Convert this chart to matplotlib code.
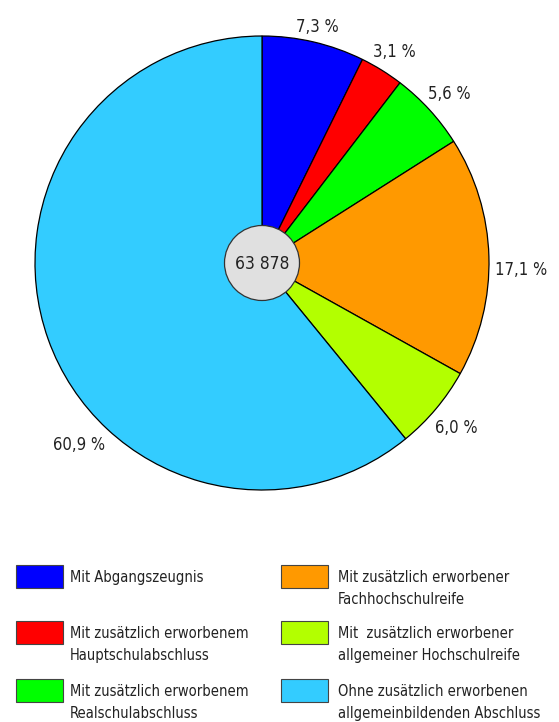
import matplotlib.pyplot as plt
from matplotlib.patches import Rectangle, Circle
from matplotlib import font_manager
import numpy as np

# the reference uses a condensed sans; take a regular-weight one if present
narrow = [f for f in font_manager.fontManager.ttflist
          if ("Narrow" in f.name or "Condensed" in f.name
              or str(f.stretch) in ("condensed", "semi-condensed", "575", "600", "700"))
          and f.style == "normal" and f.weight in (400, "normal", "regular", "book")]
fp = font_manager.FontProperties(fname=narrow[0].fname) if narrow else None

shares = [7.3, 3.1, 5.6, 17.1, 6.0, 60.9]
share_labels = ["7,3 %", "3,1 %", "5,6 %", "17,1 %", "6,0 %", "60,9 %"]
colors = ["#0000ff", "#ff0000", "#00ff00", "#ff9900", "#b3ff00", "#33ccff"]
categories = [
    "Mit Abgangszeugnis",
    "Mit zusätzlich erworbenem\nHauptschulabschluss",
    "Mit zusätzlich erworbenem\nRealschulabschluss",
    "Mit zusätzlich erworbener\nFachhochschulreife",
    "Mit  zusätzlich erworbener\nallgemeiner Hochschulreife",
    "Ohne zusätzlich erworbenen\nallgemeinbildenden Abschluss",
]
total = "63 878"

W, H = 559, 722
fig = plt.figure(figsize=(W / 100, H / 100), dpi=100)
ax = fig.add_axes([0, 0, 1, 1])

cx, cy, r = 262, 263, 227
# y axis is inverted, so counterclock=True draws clockwise on screen
wedges, _ = ax.pie(shares, colors=colors, startangle=-90, counterclock=True,
                   center=(cx, cy), radius=r, frame=True,
                   wedgeprops=dict(edgecolor="black", linewidth=0.9))
ax.set_xlim(0, W)
ax.set_ylim(H, 0)
ax.set_aspect("equal")
ax.axis("off")

txt = "#222222"

# percentage labels: keep a fixed gap between the rim and the text box
# (two labels sit off their slice's middle in the original)
label_angle = {3: 1.0, 5: 135.5}
renderer = fig.canvas.get_renderer()
for i, (w, lab) in enumerate(zip(wedges, share_labels)):
    ang = np.deg2rad(label_angle.get(i, (w.theta1 + w.theta2) / 2))
    t = ax.text(0, 0, lab, ha="center", va="center", fontsize=12,
                color=txt, fontproperties=fp)
    bb = t.get_window_extent(renderer)
    hw, hh = bb.width / 2, bb.height / 2 - 2
    d = r + 6 + abs(hw * np.cos(ang)) + abs(hh * np.sin(ang))
    t.set_position((cx + d * np.cos(ang), cy + d * np.sin(ang) + 2))

ax.add_patch(Circle((cx, cy), 37.5, facecolor="#e0e0e0", edgecolor="#333333",
                    linewidth=0.9, zorder=5))
ax.text(cx, cy + 1, total, ha="center", va="center", fontsize=12.5,
        color=txt, zorder=6, fontproperties=fp)

# legend, two columns of three
col_x = [16, 281]
row_y = [565, 621, 679]
for i, (c, lab) in enumerate(zip(colors, categories)):
    x = col_x[i // 3]
    y = row_y[i % 3]
    ax.add_patch(Rectangle((x, y), 47, 23, facecolor=c, edgecolor="#444444",
                           linewidth=0.8))
    ax.text(x + 54 if i < 3 else x + 57, y + 5, lab, ha="left", va="top",
            fontsize=10.5, color=txt, linespacing=1.6, fontproperties=fp)

fig.savefig("out.png", dpi=100)
